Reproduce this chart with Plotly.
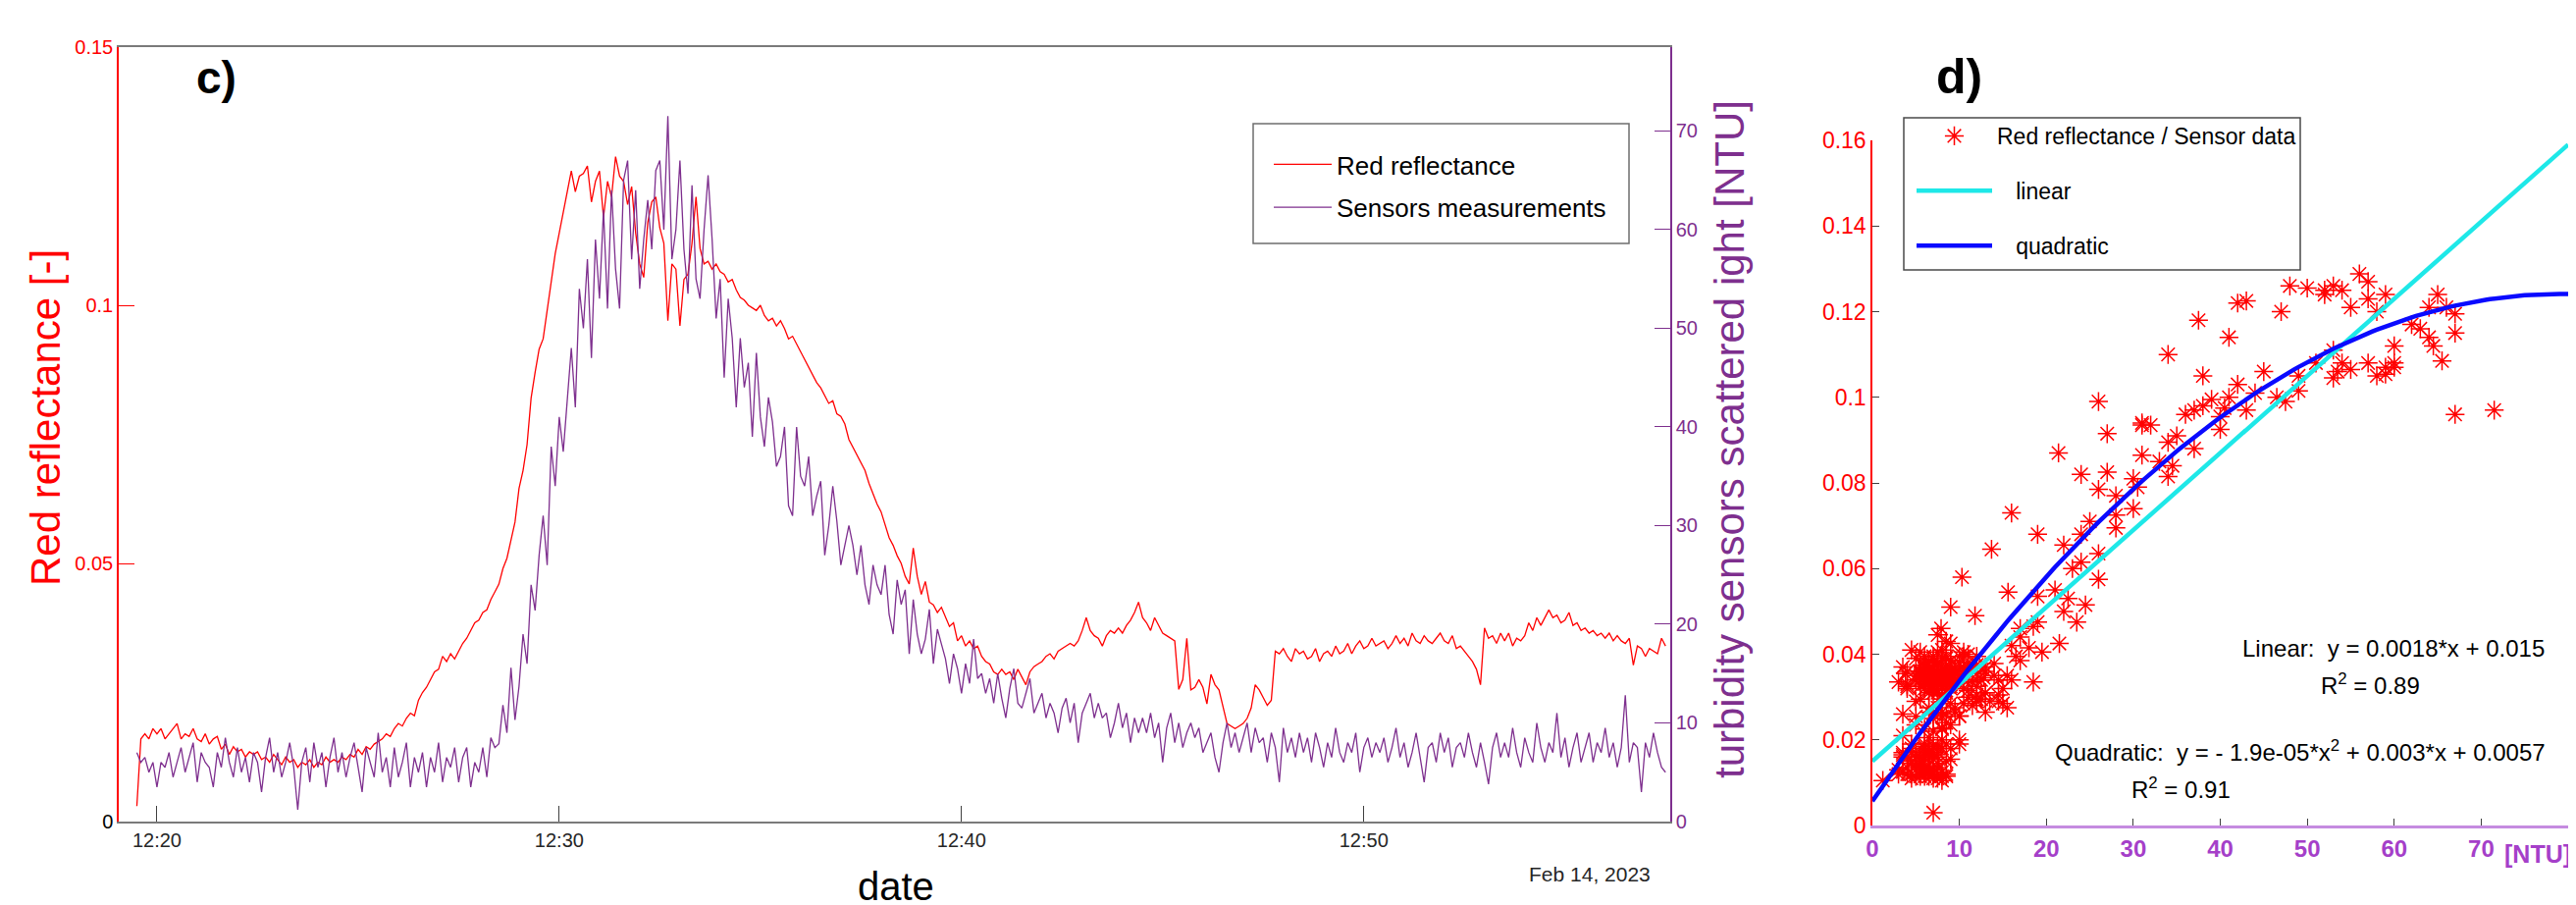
import numpy as np
import pandas as pd
import plotly.graph_objects as go

W, H = 2625, 922
OFF = 8  # page body margin of the written html page
FONT = "Liberation Sans, Arial, Helvetica, sans-serif"

# ---------------- data ----------------
start_time = "2023-02-14 12:19:30"
step_seconds = 6

red_reflectance = [
    0.003, 0.016, 0.017, 0.016, 0.018, 0.017, 0.018, 0.016, 0.017, 0.018,
    0.019, 0.016, 0.017, 0.0165, 0.018, 0.016, 0.0155, 0.017, 0.015, 0.016,
    0.0165, 0.014, 0.015, 0.013, 0.0145, 0.0135, 0.014, 0.0125, 0.0135, 0.013,
    0.0135, 0.012, 0.0125, 0.0115, 0.013, 0.012, 0.011, 0.0125, 0.0115, 0.012,
    0.0105, 0.0115, 0.011, 0.012, 0.0105, 0.0115, 0.011, 0.0125, 0.0115, 0.012,
    0.0115, 0.0125, 0.012, 0.013, 0.0125, 0.014, 0.013, 0.0145, 0.014, 0.015,
    0.0155, 0.016, 0.017, 0.0165, 0.018, 0.019, 0.0185, 0.02, 0.021, 0.0205,
    0.0235, 0.025, 0.026, 0.0275, 0.029, 0.0295, 0.032, 0.031, 0.0325, 0.0315,
    0.033, 0.0345, 0.0355, 0.037, 0.0385, 0.039, 0.0405, 0.041, 0.043, 0.0445,
    0.046, 0.049, 0.051, 0.0545, 0.058, 0.0645, 0.068, 0.073, 0.082, 0.087,
    0.0915, 0.0935, 0.099, 0.105, 0.11, 0.114, 0.118, 0.1225, 0.126, 0.122,
    0.125, 0.1255, 0.127, 0.12, 0.124, 0.126, 0.117, 0.124, 0.121, 0.1288,
    0.125, 0.124, 0.1195, 0.123, 0.114, 0.108, 0.1054, 0.116, 0.12, 0.121,
    0.115, 0.112, 0.097, 0.108, 0.107, 0.096, 0.105, 0.106, 0.112, 0.121,
    0.111, 0.108, 0.1085, 0.107, 0.108, 0.1065, 0.106, 0.1045, 0.105, 0.103,
    0.1015, 0.101, 0.1, 0.0995, 0.099, 0.1, 0.098, 0.097, 0.0975, 0.096,
    0.097, 0.0955, 0.0935, 0.094, 0.0925, 0.091, 0.0895, 0.088, 0.0865, 0.085,
    0.084, 0.0825, 0.081, 0.0815, 0.079, 0.0785, 0.077, 0.074, 0.0725, 0.071,
    0.0695, 0.068, 0.0655, 0.0635, 0.0615, 0.06, 0.0575, 0.055, 0.0535, 0.0515,
    0.05, 0.0475, 0.046, 0.053, 0.0475, 0.044, 0.0465, 0.0425, 0.042, 0.0405,
    0.0415, 0.0395, 0.0378, 0.0385, 0.035, 0.036, 0.034, 0.035, 0.0335, 0.034,
    0.032, 0.031, 0.0305, 0.029, 0.0285, 0.0295, 0.0285, 0.029, 0.0275, 0.0295,
    0.028, 0.0265, 0.029, 0.03, 0.0305, 0.031, 0.032, 0.0325, 0.0315, 0.033,
    0.0335, 0.034, 0.0345, 0.034, 0.035, 0.037, 0.0395, 0.037, 0.036, 0.0355,
    0.034, 0.036, 0.037, 0.0365, 0.0375, 0.0365, 0.038, 0.039, 0.0405, 0.0425,
    0.0395, 0.0385, 0.037, 0.0395, 0.038, 0.0365, 0.036, 0.0355, 0.035, 0.0256,
    0.0275, 0.0355, 0.0255, 0.026, 0.0275, 0.026, 0.0228, 0.0285, 0.0265, 0.0255,
    0.0225, 0.019, 0.0185, 0.018, 0.0185, 0.019, 0.02, 0.022, 0.0265, 0.0255,
    0.024, 0.0225, 0.0235, 0.033, 0.0325, 0.0335, 0.032, 0.031, 0.0335, 0.0325,
    0.033, 0.0315, 0.032, 0.0335, 0.031, 0.0325, 0.033, 0.032, 0.034, 0.0325,
    0.033, 0.0345, 0.0325, 0.034, 0.035, 0.0335, 0.034, 0.0355, 0.034, 0.0345,
    0.035, 0.0335, 0.0345, 0.036, 0.0345, 0.0355, 0.034, 0.0365, 0.035, 0.0345,
    0.036, 0.035, 0.0345, 0.0355, 0.0365, 0.035, 0.0345, 0.036, 0.0335, 0.034,
    0.033, 0.032, 0.031, 0.0295, 0.0265, 0.0375, 0.0355, 0.036, 0.0345, 0.0365,
    0.035, 0.0365, 0.034, 0.0355, 0.035, 0.036, 0.0385, 0.037, 0.0395, 0.038,
    0.0395, 0.041, 0.0395, 0.04, 0.0385, 0.039, 0.0405, 0.038, 0.0385, 0.037,
    0.0375, 0.0365, 0.037, 0.036, 0.0365, 0.0355, 0.0365, 0.035, 0.036, 0.035,
    0.0345, 0.0355, 0.0303, 0.034, 0.0335, 0.032, 0.0335, 0.033, 0.0325, 0.0355,
    0.034,
]

sensor_ntu = [
    7, 6, 6.5, 5, 6, 3.5, 6, 5.5, 7, 4.5,
    6, 7.5, 5, 6.5, 8, 4, 7, 6, 5.5, 3.5,
    7, 5.5, 8.5, 6, 4.5, 7.5, 5, 6.5, 4, 7,
    6, 3, 6.5, 8.5, 5, 7, 4.5, 6, 8, 5.5,
    1.2, 6, 7.5, 4, 8, 5.5, 7, 3.5, 6.5, 8.5,
    5, 7, 4.5, 6.5, 8, 5.5, 3, 7.5, 6, 4.5,
    9, 5, 6.5, 3.5, 7.5, 4.5, 6, 8, 3.5, 6.5,
    5, 7, 3.5, 6.5, 5, 8, 4, 6.5, 5.5, 7.5,
    4, 6.5, 7.5, 3.5, 6, 5, 7.5, 4.5, 8.5, 7.5,
    7.9, 11.8, 9, 15.6, 10.3, 13.7, 19, 16, 24, 21.4,
    27, 31, 26, 38, 34, 41, 37.5, 43, 48, 42,
    54, 50, 57, 47, 59, 53, 62, 52, 64, 56,
    52, 65, 67, 57, 64, 54, 59, 63, 58, 66,
    67, 60, 71.5, 57, 60, 67, 58, 53.5, 64.5, 55,
    53, 60, 65.5, 59, 51, 55, 45, 53, 49, 42,
    49, 44, 46.5, 39, 47.5, 41, 38, 43, 40.5, 36,
    37, 40, 32, 31, 40, 35, 34, 37, 31, 33,
    34.5, 27, 30, 34, 30.5, 26, 28, 30, 28, 25,
    28, 24, 22, 26, 24, 23, 26, 21, 19, 24.5,
    22, 23.5, 17, 22.5, 19, 17, 18.5, 21.5, 16, 19.5,
    18, 16.5, 14, 17, 15.5, 13, 16, 14, 18.5, 14.5,
    15, 13, 14.5, 12, 15, 12.5, 10.5, 13.5, 15.5, 12,
    11.5, 13, 14.5, 11, 12, 13, 10.5, 12, 11, 9,
    11.5, 12.5, 10, 12, 8, 11, 12, 13, 10.5, 12,
    10.5, 11, 8.5, 10, 12, 9.5, 11, 8, 10.5, 9,
    10.5, 9, 11, 8.5, 10, 6, 9.5, 11, 8, 10,
    7.5, 9, 10, 8.5, 9.5, 7, 8, 9, 6.5, 5,
    8, 10, 7.5, 9, 7, 8.5, 10, 7, 9.5, 8,
    8.5, 6, 9, 7.5, 4, 9.5, 7, 8.5, 6.5, 9,
    7, 8.5, 6, 9, 7.5, 5.5, 8, 6.5, 9.5, 7,
    6, 8, 7, 9, 5, 7.5, 8.5, 6.5, 8, 7,
    8.5, 6, 7.5, 9.5, 6.5, 8, 5.5, 7, 9, 6.5,
    4, 7.5, 8, 6, 9, 7, 8.5, 5.5, 7.5, 8,
    6.5, 9, 7, 5.5, 8, 6, 3.8, 7.5, 9, 6.5,
    8, 6.5, 9.5, 7, 5.5, 8.5, 7, 6, 10, 7.5,
    6, 8, 7, 11, 6.5, 8.5, 5.5, 7.5, 9, 6,
    7.5, 9, 6, 8, 7, 9.5, 6.5, 8, 5.5, 7.5,
    12.8, 6, 8, 7.5, 3, 8, 6.5, 9, 7, 5.5,
    5,
]

# fitted model coefficients printed on the chart
linear_coef = [0.0018, 0.015]
quad_coef = [-1.9e-05, 0.003, 0.0057]

time_ticks = ["2023-02-14 12:20:00", "2023-02-14 12:30:00",
              "2023-02-14 12:40:00", "2023-02-14 12:50:00"]
time_labels = ["12:20", "12:30", "12:40", "12:50"]
time_range = ["2023-02-14 12:19:03", "2023-02-14 12:57:37"]
refl_ticks = [0, 0.05, 0.1, 0.15]
refl_labels = ['<span style="color:#000000">0</span>', "0.05", "0.1", "0.15"]
ntu_ticks = [0, 10, 20, 30, 40, 50, 60, 70]
scatter_y_ticks = [0, 0.02, 0.04, 0.06, 0.08, 0.1, 0.12, 0.14, 0.16]
scatter_y_labels = ["0", "0.02", "0.04", "0.06", "0.08", "0.1", "0.12", "0.14", "0.16"]
scatter_x_ticks = [0, 10, 20, 30, 40, 50, 60, 70]

assert len(red_reflectance) == len(sensor_ntu)
times = pd.date_range(start_time, periods=len(red_reflectance), freq=f"{step_seconds}s")

fit_x = np.linspace(0, 80, 161)
fit_lin = np.polyval(linear_coef, fit_x)
fit_quad = np.polyval(quad_coef, fit_x)

RED = "#FF0000"
PURPLE = "#7E2F8E"
PURPLE_B = "#A53FC9"
CYAN = "#1EE8E8"
BLUE = "#0A0AFF"


def px(x):
    return (x - OFF) / W


def py(y):
    return 1 - (y - OFF) / H


fig = go.Figure()
fig.add_trace(go.Scatter(x=times, y=red_reflectance, mode="lines", name="Red reflectance",
                         line=dict(color=RED, width=1.3), xaxis="x", yaxis="y",
                         legend="legend", legendgroup="a"))
fig.add_trace(go.Scatter(x=times, y=sensor_ntu, mode="lines", name="Sensors measurements",
                         line=dict(color=PURPLE, width=1.3), xaxis="x", yaxis="y2",
                         legend="legend", legendgroup="b"))
fig.add_trace(go.Scatter(x=sensor_ntu, y=red_reflectance, mode="markers",
                         name="Red reflectance / Sensor data",
                         marker=dict(symbol="asterisk-open", size=16, color=RED,
                                     line=dict(color=RED, width=1.5)),
                         xaxis="x2", yaxis="y3", legend="legend2", legendgroup="c"))
fig.add_trace(go.Scatter(x=fit_x, y=fit_lin, mode="lines",
                         name="\u00a0\u00a0\u00a0linear",
                         line=dict(color=CYAN, width=4.5), xaxis="x2", yaxis="y3",
                         legend="legend2", legendgroup="d"))
fig.add_trace(go.Scatter(x=fit_x, y=fit_quad, mode="lines",
                         name="\u00a0\u00a0\u00a0quadratic",
                         line=dict(color=BLUE, width=4.5), xaxis="x2", yaxis="y3",
                         legend="legend2", legendgroup="e"))

ann = []


def add_text(text, x, y, size, color="#000000", xanchor="center", angle=0, bold=False):
    ann.append(dict(text=text, x=px(x), y=py(y), xref="paper", yref="paper",
                    xanchor=xanchor, yanchor="middle", showarrow=False, textangle=angle,
                    font=dict(family=FONT, size=size, color=color,
                              weight="bold" if bold else "normal")))


add_text("c)", 220, 79, 46, bold=True)
add_text("d)", 1996, 78, 50, bold=True)
add_text("Red reflectance [-]", 47, 426, 42, color=RED, angle=-90)
add_text("turbidity sensors scattered ight [NTU]", 1763, 448, 42, color=PURPLE, angle=-90)
add_text("date", 913, 903, 40)
add_text("Feb 14, 2023", 1684, 890, 21, color="#262626", xanchor="right")
add_text("Linear:  y = 0.0018*x + 0.015", 2439, 660, 24)
add_text("R<sup>2</sup> = 0.89", 2415, 697, 24)
add_text("Quadratic:  y = - 1.9e-05*x<sup>2</sup> + 0.003*x + 0.0057", 2344, 765, 24)
add_text("R<sup>2</sup> = 0.91", 2222, 803, 24)
add_text("[NTU]", 2550, 870, 25, color=PURPLE_B, xanchor="left", bold=True)

# legend frames
shapes = [
    dict(type="rect", xref="paper", yref="paper", layer="below",
         x0=px(1277), x1=px(1660), y0=py(248), y1=py(126),
         line=dict(color="#6e6e6e", width=1.5), fillcolor="white"),
    dict(type="rect", xref="paper", yref="paper", layer="below",
         x0=px(1940), x1=px(2344), y0=py(275), y1=py(120),
         line=dict(color="#4a4a4a", width=1.5), fillcolor="white"),
]

fig.update_layout(
    width=W, height=H, autosize=False,
    margin=dict(l=0, r=0, t=0, b=0, autoexpand=False),
    paper_bgcolor="white", plot_bgcolor="rgba(0,0,0,0)",
    font=dict(family=FONT, color="#000000"),
    annotations=ann,
    shapes=shapes,
    xaxis=dict(domain=[px(121), px(1702)], anchor="y", type="date", range=time_range,
               tickmode="array", tickvals=time_ticks, ticktext=time_labels,
               ticks="inside", ticklen=16, tickwidth=1.2, tickcolor="#404040",
               showline=True, linecolor="#7a7a7a", linewidth=2, mirror=True,
               showgrid=False, zeroline=False,
               tickfont=dict(family=FONT, size=20, color="#262626")),
    yaxis=dict(domain=[py(837), py(48)], anchor="x", range=[0, 0.15],
               tickmode="array", tickvals=refl_ticks, ticktext=refl_labels,
               ticks="inside", ticklen=16, tickwidth=1.2, tickcolor=RED,
               showline=True, linecolor=RED, linewidth=1.5,
               showgrid=False, zeroline=False,
               tickfont=dict(family=FONT, size=20, color=RED)),
    yaxis2=dict(overlaying="y", side="right", anchor="x", range=[0, 78.5],
                tickmode="array", tickvals=ntu_ticks,
                ticks="inside", ticklen=16, tickwidth=1.2, tickcolor=PURPLE,
                showline=True, linecolor=PURPLE, linewidth=1.5,
                showgrid=False, zeroline=False,
                tickfont=dict(family=FONT, size=20, color=PURPLE)),
    xaxis2=dict(domain=[px(1908), px(2617)], anchor="y3", range=[0, 80],
                tickmode="array", tickvals=scatter_x_ticks,
                ticks="inside", ticklen=7, tickwidth=1.2, tickcolor="#404040",
                showline=True, linecolor="#C58BE0", linewidth=2.5,
                showgrid=False, zeroline=False,
                tickfont=dict(family=FONT, size=24, color=PURPLE_B, weight="bold")),
    yaxis3=dict(domain=[py(841), py(143)], anchor="x2", range=[0, 0.16],
                tickmode="array", tickvals=scatter_y_ticks, ticktext=scatter_y_labels,
                ticks="inside", ticklen=7, tickwidth=1.2, tickcolor="#404040",
                showline=True, linecolor=RED, linewidth=1.5,
                showgrid=False, zeroline=False,
                tickfont=dict(family=FONT, size=23, color=RED)),
    legend=dict(x=px(1293), y=py(144), xanchor="left", yanchor="top",
                bgcolor="rgba(0,0,0,0)", borderwidth=0,
                font=dict(family=FONT, size=26, color="#000000"),
                itemwidth=59, tracegroupgap=7, traceorder="grouped"),
    legend2=dict(x=px(1948), y=py(117), xanchor="left", yanchor="top",
                 bgcolor="rgba(0,0,0,0)", borderwidth=0,
                 font=dict(family=FONT, size=23, color="#000000"),
                 itemwidth=77, tracegroupgap=23, traceorder="grouped"),
    showlegend=True,
)

fig.write_html("out.html")
